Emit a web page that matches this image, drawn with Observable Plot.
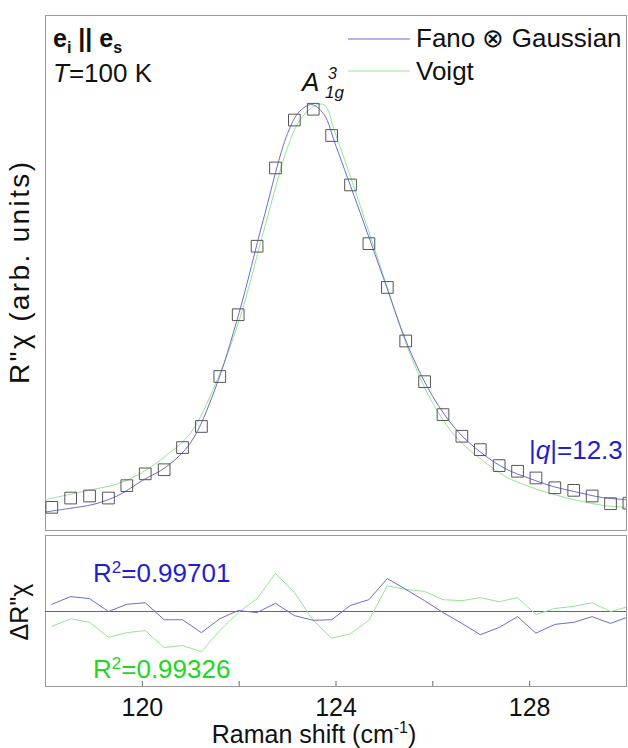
<!DOCTYPE html>
<html><head><meta charset="utf-8">
<script src="https://cdn.jsdelivr.net/npm/d3@7"></script>
<script src="https://cdn.jsdelivr.net/npm/@observablehq/plot@0.6"></script>
<style>
body{margin:0;background:#fff;}
#wrap{position:relative;width:628px;height:748px;overflow:hidden;font-family:"Liberation Sans",Arial,sans-serif;}
#wrap > svg, #wrap > div{position:absolute;left:0;}
</style></head><body><div id="wrap"></div>
<script>
// measured Raman shift (cm^-1) of data points
const shift = [118.13,118.52,118.91,119.30,119.68,120.06,120.45,120.83,121.22,121.60,121.98,122.37,122.75,123.14,123.53,123.91,124.30,124.68,125.06,125.44,125.83,126.21,126.60,126.98,127.37,127.75,128.13,128.52,128.91,129.29,129.67,130.05];
const intensity = [4.5,6.3,6.7,6.3,8.7,11.0,11.8,16.1,20.2,29.9,41.9,55.2,70.4,79.7,81.8,76.7,67.1,55.7,47.2,36.8,28.9,22.5,18.3,15.7,12.6,11.5,10.2,8.3,7.8,6.7,5.2,5.3];
// fit curves
const fitShift = [118,118.5,119,119.5,120,120.5,121,121.5,122,122.5,123,123.25,123.5,123.75,124,124.5,125,125.5,126,126.5,127,127.5,128,128.5,129,129.5,130];
const fanoFit = [3.6,4.3,5.1,6.8,9.7,12.4,17.1,27.4,42.3,60.4,77.1,81.4,82.7,80.8,74.6,61.7,48.5,35.5,26.0,19.4,15.1,12.0,10.1,8.5,7.4,6.4,6.0];
const voigtFit = [6.0,7.0,8.0,9.1,11.3,14.6,19.0,28.2,40.8,57.9,74.4,79.6,82.1,82.7,76.7,63.1,48.9,35.0,24.7,17.9,13.8,10.5,8.5,7.0,5.8,4.9,4.5];
// residuals at data points
const fanoResid = [1.4,2.9,2.5,0,1.4,1.7,-1.6,-1.6,-4.1,-1.4,0.2,-0.2,1.6,-0.8,-1.7,-1.6,1.2,2.3,6.4,4.3,2.1,-0.2,-2.3,-4.5,-3.1,-1.0,-4.2,-2.5,-2.1,-1.0,-2.3,-1.0];
const voigtResid = [-2.9,-1.4,-2.1,-5.0,-4.1,-3.7,-7.0,-6.6,-7.8,-3.7,-0.2,2.5,7.4,3.7,-1.7,-5.2,-4.3,-1.7,5.0,4.3,3.9,2.3,2.1,2.7,1.9,2.7,-0.6,0.6,1.0,1.7,0,1.0];
const xTicks = [120,124,128];
const xAllTicks = [120,122,124,126,128];
const xDomain = [118,130];

const blue = "#6b6bd6", green = "#92e692";
const blueText = "#1f1fd0", greenText = "#22d622";
const font = "Liberation Sans, Arial, sans-serif";

const pts = shift.map((x,i)=>({x, y: intensity[i], rb: fanoResid[i], rg: voigtResid[i]}));
const fit = fitShift.map((x,i)=>({x, b: fanoFit[i], g: voigtFit[i]}));

const wrap = document.getElementById("wrap");

const p1 = Plot.plot({
  width: 628, height: 535,
  marginTop: 15, marginBottom: 5, marginLeft: 45, marginRight: 2,
  style: {fontFamily: font, background: "transparent"},
  x: {domain: xDomain, axis: null},
  y: {domain: [0,100], axis: null},
  marks: [
    Plot.frame({stroke: "#9a9a9a"}),
    Plot.line(fit, {x: "x", y: "g", stroke: green, strokeWidth: 1, curve: "catmull-rom", clip: true}),
    Plot.line(fit, {x: "x", y: "b", stroke: blue, strokeWidth: 1, curve: "catmull-rom", clip: true}),
    Plot.dot(pts, {x: "x", y: "y", symbol: "square", r: 6.6, stroke: "#555", strokeWidth: 1, fill: "none", clip: true})
  ]
});
p1.style.top = "0px";
wrap.appendChild(p1);

const p2 = Plot.plot({
  width: 628, height: 218,
  marginTop: 5, marginBottom: 62, marginLeft: 45, marginRight: 2,
  style: {fontFamily: font, background: "transparent"},
  x: {domain: xDomain},
  y: {domain: [-14.56, 14.76], axis: null},
  marks: [
    Plot.frame({stroke: "#9a9a9a"}),
    Plot.ruleY([0], {stroke: "#666", strokeWidth: 1}),
    Plot.line(pts, {x: "x", y: "rg", stroke: green, strokeWidth: 1, clip: true}),
    Plot.line(pts, {x: "x", y: "rb", stroke: blue, strokeWidth: 1, clip: true}),
    Plot.ruleX(xAllTicks, {stroke: "#666", insetTop: 146}),
    Plot.axisX({ticks: xTicks, tickSize: 0, tickPadding: 12, fontSize: 25, fill: "#111", label: null, tickFormat: d => String(d)})
  ]
});
p2.style.top = "530px";
wrap.appendChild(p2);

// overlay with annotations, legend and axis titles
const ov = d3.select(wrap).append("svg")
  .attr("width", 628).attr("height", 748)
  .style("top", "0px").style("pointer-events", "none")
  .attr("font-family", font).attr("font-size", 26).attr("fill", "#111");

// polarization
let t = ov.append("text").attr("x", 53).attr("y", 47).attr("font-weight", "bold").attr("font-size", 25);
t.append("tspan").text("e");
t.append("tspan").attr("font-size", 16).attr("dy", 6).text("i");
t.append("tspan").attr("dy", -6).text(" || e");
t.append("tspan").attr("font-size", 16).attr("dy", 6).text("s");
t = ov.append("text").attr("x", 53).attr("y", 82);
t.append("tspan").attr("font-style", "italic").text("T");
t.append("tspan").text("=100 K");

// mode label
ov.append("text").attr("x", 302).attr("y", 91).attr("font-style", "italic").text("A");
ov.append("text").attr("x", 328).attr("y", 79).attr("font-style", "italic").attr("font-size", 16).text("3");
ov.append("text").attr("x", 325).attr("y", 98).attr("font-style", "italic").attr("font-size", 17).text("1g");

// legend
ov.append("line").attr("x1", 348).attr("x2", 410).attr("y1", 39).attr("y2", 39).attr("stroke", blue);
ov.append("line").attr("x1", 348).attr("x2", 410).attr("y1", 71).attr("y2", 71).attr("stroke", green);
ov.append("text").attr("x", 416).attr("y", 47).text("Fano \u2297 Gaussian");
ov.append("text").attr("x", 416).attr("y", 80).text("Voigt");

// q
t = ov.append("text").attr("x", 529).attr("y", 459).attr("fill", blueText);
t.append("tspan").text("|");
t.append("tspan").attr("font-style", "italic").text("q");
t.append("tspan").text("|=12.3");

// R^2
t = ov.append("text").attr("x", 93).attr("y", 582).attr("fill", blueText);
t.append("tspan").text("R");
t.append("tspan").attr("font-size", 17).attr("dy", -9).text("2");
t.append("tspan").attr("dy", 9).text("=0.99701");
t = ov.append("text").attr("x", 93).attr("y", 678).attr("fill", greenText);
t.append("tspan").text("R");
t.append("tspan").attr("font-size", 17).attr("dy", -9).text("2");
t.append("tspan").attr("dy", 9).text("=0.99326");

// y titles
ov.append("text").attr("transform", "translate(29,273) rotate(-90)").attr("text-anchor", "middle")
  .attr("font-size", 28).attr("textLength", 222).attr("lengthAdjust", "spacing").text("R\"\u03c7 (arb. units)");
ov.append("text").attr("transform", "translate(28,612) rotate(-90)").attr("text-anchor", "middle").attr("font-size", 25).text("\u0394R\"\u03c7");

// x title
t = ov.append("text").attr("x", 314).attr("y", 743).attr("text-anchor", "middle").attr("font-size", 25);
t.append("tspan").text("Raman shift (cm");
t.append("tspan").attr("font-size", 16).attr("dy", -10).text("-1");
t.append("tspan").attr("dy", 10).text(")");
</script></body></html>
